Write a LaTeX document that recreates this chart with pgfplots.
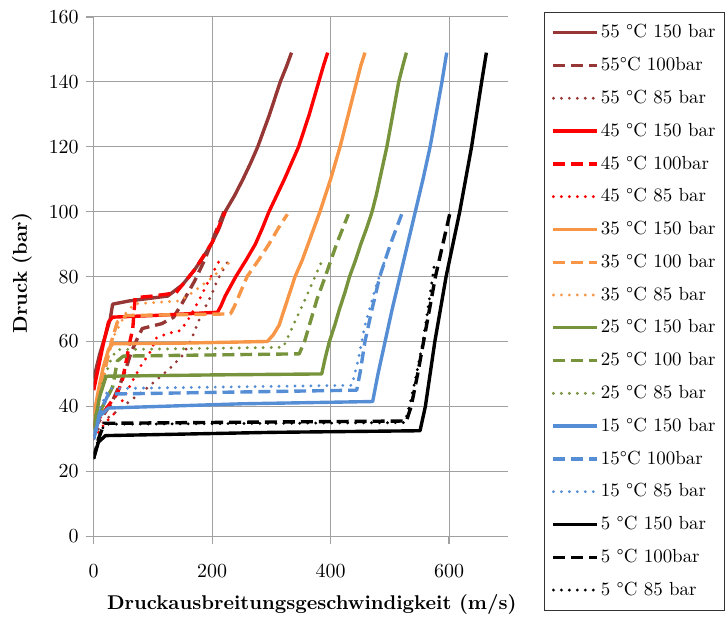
\documentclass[border=0pt]{standalone}
\usepackage{fontspec}
\usepackage{pgfplots}
\pgfplotsset{compat=1.18}
\definecolor{cbrown}{RGB}{150,55,53}
\definecolor{cred}{RGB}{255,0,0}
\definecolor{corange}{RGB}{247,150,70}
\definecolor{cgreen}{RGB}{119,147,60}
\definecolor{cblue}{RGB}{85,142,213}
\definecolor{cgrid}{RGB}{160,160,160}
\tikzset{
 sl/.style={line width=1.7pt, solid, line join=round},
 dl/.style={line width=1.7pt, dash pattern=on 6pt off 3pt, line join=round},
 pl/.style={line width=1.6pt, dash pattern=on 0pt off 4pt, line cap=round, line join=round},
}
\begin{document}
\begin{tikzpicture}
\begin{axis}[name=ax, scale only axis, width=208pt, height=260.5pt,
 xmin=0, xmax=700, ymin=0, ymax=160,
 xtick={0,200,400,600}, ytick={0,20,...,160},
 grid=major, grid style={cgrid, line width=0.5pt},
 axis lines=left, axis line style={-, cgrid, line width=0.6pt},
 tick align=outside, major tick length=4pt, tick style={cgrid, line width=0.6pt},
 xticklabel style={yshift=-6.5pt},
 xlabel={\textbf{Druckausbreitungsgeschwindigkeit (m/s)}},
 ylabel={\textbf{Druck (bar)}},
 xlabel style={at={(0.526,-0.1324)}, anchor=center},
 ylabel style={at={(-0.173,0.507)}, anchor=center},
 legend style={at={(1.0865,1.0096)}, anchor=north west, draw=black!80, line width=0.6pt,
   row sep=4.25pt, column sep=0pt, inner xsep=3.5pt, inner ysep=4pt,
   nodes={inner xsep=1pt, inner ysep=2pt},
   font=\fontsize{9.5}{11.4}\selectfont},
 legend cell align=left,
 legend image code/.code={\draw[#1] (0pt,0pt) -- (22pt,0pt);},
 every axis plot/.append style={no markers},
]
% 55 C
\addplot[cbrown, sl] coordinates {(0,48.5) (10,56) (20,62) (28,67) (32,71.5) (60,72.5) (125,74) (150,77.5) (170,82) (185,86) (200,90.5) (212,95) (222,100) (238,105) (252,110) (265,115) (277,120) (287,125) (297,130) (306,135) (315,140) (325,144.5) (334,149)};
\addlegendentry{55 °C 150 bar}
\addplot[cbrown, dl] coordinates {(0,33) (15,37) (30,41) (45,47) (55,52) (64,57) (74,61) (82,64) (115,65.5) (135,67.5) (150,72) (170,78.5) (187,85) (200,91) (220,100)};
\addlegendentry{55°C 100bar}
\addplot[cbrown, pl] coordinates {(0,31) (20,36) (38,38.3) (60,41.5) (89,45.5) (128,51.6) (150,55.7) (164,60.3) (181,68) (198,74) (209,79) (226,84.5)};
\addlegendentry{55 °C 85 bar}
% 45 C
\addplot[cred, sl] coordinates {(0,45) (8,52) (16,59) (25,66) (32,67.5) (100,68) (209,69) (215,71) (222,74) (240,80) (257,85) (273,90) (285,95) (296,100) (309,105) (322,110) (334,115) (346,120) (355,125) (364,130) (372,135) (380,140) (388,145) (395,149)};
\addlegendentry{45 °C 150 bar}
\addplot[cred, dl] coordinates {(0,34) (20,39) (40,44) (49,48.5) (55,54) (60,59) (66,64) (70,73.5) (100,74) (139,75) (150,77.5) (170,82) (200,90.5) (222,100)};
\addlegendentry{45 °C 100bar}
\addplot[cred, pl] coordinates {(0,30) (20,35) (38,38.4) (55,44) (66,48) (80,52.6) (97,57.2) (105,61) (125,62.5) (147,63.4) (164,68) (180,73.5) (195,79) (211,84.5)};
\addlegendentry{45 °C 85 bar}
% 35 C
\addplot[corange, sl] coordinates {(0,37) (8,45) (16,52) (25,57.5) (32,59.3) (150,59.5) (293,60) (303,62) (313,65) (322,70) (331,75) (340,80) (352,85) (362,90) (372,95) (382,100) (391,105) (400,110) (408,115) (416,120) (423,125) (430,130) (437,135) (444,140) (451,145) (458,149)};
\addlegendentry{35 °C 150 bar}
\addplot[corange, dl] coordinates {(0,36) (15,48) (30,60) (40,66) (55,68) (231,68.5) (238,71) (245,74) (259,80) (278,85) (296,90) (312,95) (327,99.2)};
\addlegendentry{35 °C 100 bar}
\addplot[corange, pl] coordinates {(0,36) (15,50) (35,62) (55,69) (69,71.6) (145,72.5) (170,75.5) (195,79) (230,84.5)};
\addlegendentry{35 °C 85 bar}
% 25 C
\addplot[cgreen, sl] coordinates {(0,33) (10,43) (21,49.3) (200,49.7) (385,50) (391,55) (398,60) (407,65) (415,70) (424,75) (432,80) (442,85) (451,90) (461,95) (470,100) (477,105) (483,110) (489,115) (495,120) (500,125) (505,130) (510,135) (515,140) (522,145) (528,149)};
\addlegendentry{25 °C 150 bar}
\addplot[cgreen, dl] coordinates {(0,33) (15,40) (32,46) (40,54) (50,55.5) (347,56.2) (356,60) (377,73) (391,80) (410,90) (430,99.2)};
\addlegendentry{25 °C 100 bar}
\addplot[cgreen, pl] coordinates {(0,35) (15,47) (30,55) (40,57.5) (320,58.2) (332,63) (357,73) (385,84.7)};
\addlegendentry{25 °C 85 bar}
% 15 C
\addplot[cblue, sl] coordinates {(0,30) (10,37) (25,39.5) (250,40.8) (471,41.5) (480,50) (492,60) (504,70) (517,80) (530,90) (543,100) (556,110) (568,120) (578,130) (588,140) (596,149)};
\addlegendentry{15 °C 150 bar}
\addplot[cblue, dl] coordinates {(0,30) (10,38) (25,43.8) (444,45) (450,50.6) (458,60) (470,70) (483,80) (501,90) (520,99.2)};
\addlegendentry{15°C 100bar}
\addplot[cblue, pl] coordinates {(0,30) (10,39) (25,45.5) (436,46.5) (447,54.7) (458,65) (475,76) (491,84.7)};
\addlegendentry{15 °C 85 bar}
% 5 C
\addplot[black, sl] coordinates {(0,24) (8,29) (20,31) (300,32) (551,32.5) (560,40) (576,60) (595,80) (618,100) (638,120) (655,140) (663,149)};
\addlegendentry{5 °C 150 bar}
\addplot[black, dl] coordinates {(0,24) (8,30) (18,34.8) (528,35.5) (536,40) (547,50) (557,60) (577,80) (601,99.2)};
\addlegendentry{5 °C 100bar}
\addplot[black, pl] coordinates {(0,24) (8,30) (18,34.5) (525,35) (533,40) (545,50) (556,60) (566,72) (576,84.6)};
\addlegendentry{5 °C 85 bar}
\end{axis}
\path[use as bounding box] ([shift={(-47pt,-40.5pt)}]ax.south west) rectangle ([shift={(315.5pt,269pt)}]ax.south west);
\end{tikzpicture}
\end{document}
